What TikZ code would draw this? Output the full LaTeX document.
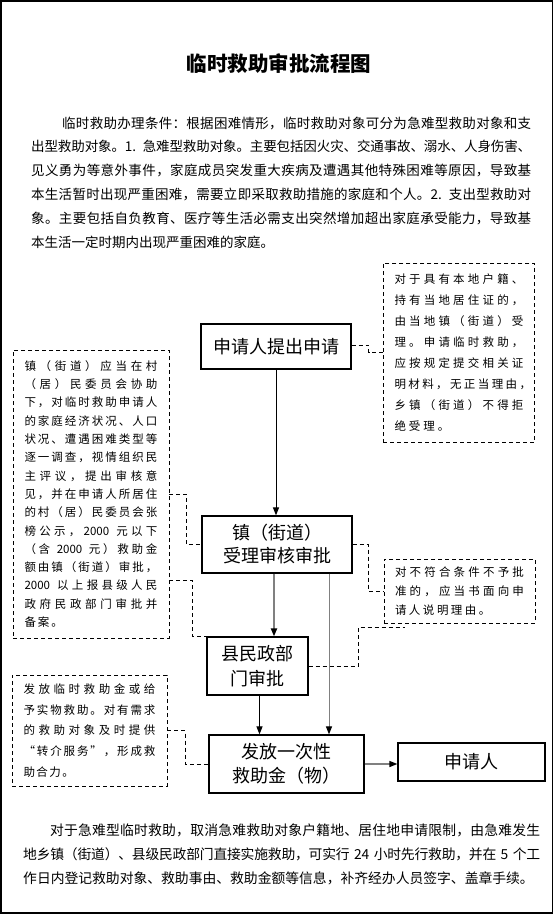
\documentclass[tikz,border=0pt]{standalone}
\usepackage{fontspec}
\setmainfont{Noto Sans CJK SC}
\usetikzlibrary{arrows.meta}
\ExplSyntaxOn
\NewDocumentCommand\SL{O{0pt}m}{
  \bool_set_true:N \l_tmpa_bool
  \tl_map_inline:nn {#2} {
    \bool_if:NTF \l_tmpa_bool {\bool_set_false:N \l_tmpa_bool} {\hskip #1 ~ plus ~ 1fil ~ minus ~ 0.6pt \relax}
    ##1
  }
}
\ExplSyntaxOff
\newcommand\JL[2][0pt]{\noindent\hbox to\hsize{\SL[#1]{#2}}\par}
\newcommand\LL[2][0pt]{\noindent\hbox to\hsize{\SL[#1]{#2}\hskip 0pt plus 1fill}\par}
\newcommand\JI[2]{\noindent\hbox to\hsize{\hskip #1\relax\SL{#2}}\par}
\tikzset{
  box/.style={draw, line width=1.2pt, inner sep=0pt, align=center, font=\fontsize{18}{23}\selectfont},
  note/.style={draw, dash pattern=on 4pt off 3pt, line width=0.9pt, inner sep=0pt},
  dline/.style={dash pattern=on 4pt off 3pt, line width=0.9pt},
  arr/.style={line width=1pt, -{Triangle[length=8pt,width=6pt,color=black]}},
  para/.style={anchor=base west, inner sep=0pt},
}
\begin{document}
\begin{tikzpicture}[x=1pt,y=-1pt]
\useasboundingbox (0,0) rectangle (555,914);
\draw[line width=1.5pt] (1,1) rectangle (552.5,913);

\node[font=\bfseries\fontsize{20.5}{24}\selectfont] (T) at (279,63.5) {临时救助审批流程图};

\node[para, text width=500pt, font=\fontsize{13.5}{23.8}\selectfont] (P1) at (31,128.1) {%
\JI{31pt}{临时救助办理条件：根据困难情形，临时救助对象可分为急难型救助对象和支}
\JL{出型救助对象。{1. }急难型救助对象。主要包括因火灾、交通事故、溺水、人身伤害、}
\JL{见义勇为等意外事件，家庭成员突发重大疾病及遭遇其他特殊困难等原因，导致基}
\JL{本生活暂时出现严重困难，需要立即采取救助措施的家庭和个人。{2. }支出型救助对}
\JL{象。主要包括自负教育、医疗等生活必需支出突然增加超出家庭承受能力，导致基}
\LL{本生活一定时期内出现严重困难的家庭。}};

% flow boxes
\node[box, minimum width=150pt, minimum height=45pt] (A) at (276,346.5) {申请人提出申请};
\node[box, minimum width=150pt, minimum height=57pt] (B) at (277,544.5) {镇（街道）\\受理审核审批};
\node[box, minimum width=101pt, minimum height=58pt, font=\fontsize{18}{25}\selectfont] (C) at (257.5,666) {县民政部\\门审批};
\node[box, minimum width=155pt, minimum height=58pt, font=\fontsize{18}{24}\selectfont] (D) at (286.5,764) {发放一次性\\救助金（物）};
\node[box, minimum width=147pt, minimum height=38pt] (E) at (471.5,762) {申请人};

% notes
\node[note, minimum width=151.5pt, minimum height=179pt, text width=129pt, font=\fontsize{11.5}{21}\selectfont] (RN) at (459,352.5) {%
\JL[3pt]{对于具有本地户籍、}
\JL[3pt]{持有当地居住证的，}
\JL[3pt]{由当地镇（街道）受}
\JL[3pt]{理。申请临时救助，}
\JL[3pt]{应按规定提交相关证}
\JL[3pt]{明材料，无正当理由，}
\JL[3pt]{乡镇（街道）不得拒}
\LL[3pt]{绝受理。}};

\node[note, minimum width=156pt, minimum height=288pt, text width=133pt, font=\fontsize{11.5}{18.3}\selectfont] (L1) at (91,494) {%
\JL[2pt]{镇（街道）应当在村}
\JL[2pt]{（居）民委员会协助}
\JL[2pt]{下，对临时救助申请人}
\JL[2pt]{的家庭经济状况、人口}
\JL[2pt]{状况、遭遇困难类型等}
\JL[2pt]{逐一调查，视情组织民}
\JL[2pt]{主评议，提出审核意}
\JL[2pt]{见，并在申请人所居住}
\JL[2pt]{的村（居）民委员会张}
\JL[2pt]{榜公示，{2000 }元以下}
\JL[2pt]{（含{ 2000 }元）救助金}
\JL[2pt]{额由镇（街道）审批，}
\JL[2pt]{{2000 }以上报县级人民}
\JL[2pt]{政府民政部门审批并}
\LL[2pt]{备案。}};

\node[note, minimum width=151pt, minimum height=64pt, text width=129pt, font=\fontsize{11.5}{19}\selectfont] (N2) at (459.5,591) {%
\JL[2.5pt]{对不符合条件不予批}
\JL[2.5pt]{准的，应当书面向申}
\LL[2.5pt]{请人说明理由。}};

\node[note, minimum width=155pt, minimum height=111pt, text width=132pt, font=\fontsize{11.5}{20.6}\selectfont] (L2) at (89.5,730.5) {%
\JL[1.5pt]{发放临时救助金或给}
\JL[1.5pt]{予实物救助。对有需求}
\JL[1.5pt]{的救助对象及时提供}
\JL[1.5pt]{“转介服务”，形成救}
\LL[1.5pt]{助合力。}};

\node[para, text width=517pt, font=\fontsize{13.8}{24}\selectfont] (P2) at (23,835.2) {%
\JI{27pt}{对于急难型临时救助，取消急难救助对象户籍地、居住地申请限制，由急难发生}
\JL{地乡镇（街道）、县级民政部门直接实施救助，可实行{ 24 }小时先行救助，并在{ 5 }个工}
\LL{作日内登记救助对象、救助事由、救助金额等信息，补齐经办人员签字、盖章手续。}};

% arrows
\coordinate (b1) at ([xshift=-3pt]B.south);
\coordinate (b2) at ([xshift=52pt]B.south);
\coordinate (c1) at ([xshift=2pt]C.south);
\coordinate (cf) at (405,627);
\draw[arr] (A.south) -- (A.south |- B.north);
\draw[arr, draw=gray, line width=1.8pt] (b1) -- (b1 |- C.north);
\draw[arr, draw=gray] (b2) -- (b2 |- D.north);
\draw[arr] (c1) -- (c1 |- D.north);
\draw[arr, draw=gray, line width=1.3pt] (D.east) -- (D.east -| E.west);

% dashed connectors
\draw[dline] ([yshift=1.5pt]A.east) -- ++(17,0) |- (RN.west);
\draw[dline] (L1.east) -- ++(17,0) |- (B.west);
\draw[dline] ([yshift=-86pt]L1.east) -- ++(23,0) |- (C.north west);
\draw[dline] (B.east) -- ++(16,0) |- (N2.west);
\draw[dline] (C.east) -- ++(49.5,0) |- (cf);
\draw[dline] (L2.east) -- ++(18,0) |- (D.west);
\end{tikzpicture}
\end{document}
